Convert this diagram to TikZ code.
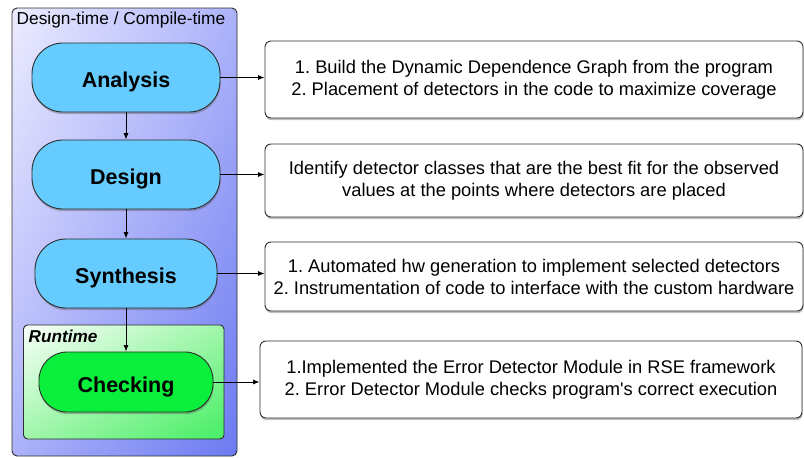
\documentclass[tikz,border=0pt]{standalone}
\usepackage{fontspec}
\setmainfont{Liberation Sans}
\usetikzlibrary{arrows.meta,shadows,shadings}
\frenchspacing

\definecolor{pillblue}{RGB}{102,204,255}
\definecolor{pillgreen}{RGB}{10,238,60}
\definecolor{edgegray}{RGB}{45,45,45}
\definecolor{phaseA}{RGB}{236,236,255}
\definecolor{phaseB}{RGB}{108,122,240}
\definecolor{phaseMid}{RGB}{172,178,250}
\definecolor{runA}{RGB}{250,255,250}
\definecolor{runB}{RGB}{70,238,100}
\definecolor{runMid}{RGB}{160,246,170}

\tikzset{
  x=1pt, y=-1pt,
  softshadow/.style={drop shadow={shadow xshift=0.6pt, shadow yshift=-2.2pt, opacity=0.35, fill=black!70}},
  stage/.style={draw=edgegray, line width=0.9pt, rounded corners=31pt, softshadow,
    minimum height=69pt, inner sep=0pt, text height=20.4pt, text depth=0pt,
    font=\fontsize{21.5}{24}\selectfont\bfseries},
  infobox/.style={draw=edgegray, line width=0.9pt, rounded corners=6pt, fill=white, softshadow,
    inner sep=0pt, align=center, font=\fontsize{18.3}{22}\selectfont},
  link/.style={line width=0.8pt, -{Latex[length=6.5pt,width=5pt]}}
}

\begin{document}
\begin{tikzpicture}
\useasboundingbox (0,0) rectangle (804,458);

% design-time / compile-time frame
\path[draw=edgegray, line width=0.9pt, rounded corners=5pt,
  upper left=phaseA, lower right=phaseB, upper right=phaseMid, lower left=phaseMid]
  (12,8) rectangle (237,456);
\node[anchor=west, font=\fontsize{17.3}{20}\selectfont, inner sep=0pt] (dtitle) at (16.5,20.5) {Design-time / Compile-time};

% runtime frame
\path[draw=edgegray, line width=0.9pt, rounded corners=4pt,
  upper left=runA, lower right=runB, upper right=runMid, lower left=runMid]
  (23.5,325) rectangle (224,439);
\node[anchor=west, font=\fontsize{17.2}{20}\selectfont\bfseries\itshape, inner sep=0pt] (rtitle) at (28.5,336.5) {Runtime};

% stages
\node[stage, fill=pillblue, minimum width=188pt] (analysis) at (126,77.5) {Analysis};
\node[stage, fill=pillblue, minimum width=188pt] (design) at (126,174.5) {Design};
\node[stage, fill=pillblue, minimum width=182pt] (synthesis) at (126,273.5) {Synthesis};
\node[stage, fill=pillgreen, minimum width=174pt, minimum height=60pt, rounded corners=28pt] (checking) at (126,382) {Checking};

% descriptions
\node[infobox, minimum width=538pt, minimum height=77pt] (d1) at (534,79.5)
  {1. Build the Dynamic Dependence Graph from the program\\2. Placement of detectors in the code to maximize coverage};
\node[infobox, minimum width=538pt, minimum height=73pt] (d2) at (534,180.5)
  {Identify detector classes that are the best fit for the observed\\values at the points where detectors are placed};
\node[infobox, minimum width=538pt, minimum height=69pt] (d3) at (534,276.5)
  {1. Automated hw generation to implement selected detectors\\2. Instrumentation of code to interface with the custom hardware};
\node[infobox, minimum width=542pt, minimum height=77pt] (d4) at (531,379.5)
  {1.Implemented the Error Detector Module in RSE framework\\2. Error Detector Module checks program\textquotesingle s correct execution};

% flow between stages
\draw[link] (analysis) -- (design);
\draw[link] (design) -- (synthesis);
\draw[link] (synthesis) -- (checking);

% stage to description
\draw[link] (analysis.east) -- (analysis.east -| d1.west);
\draw[link] (design.east) -- (design.east -| d2.west);
\draw[link] (synthesis.east) -- (synthesis.east -| d3.west);
\draw[link] (checking.east) -- (checking.east -| d4.west);
\end{tikzpicture}
\end{document}
